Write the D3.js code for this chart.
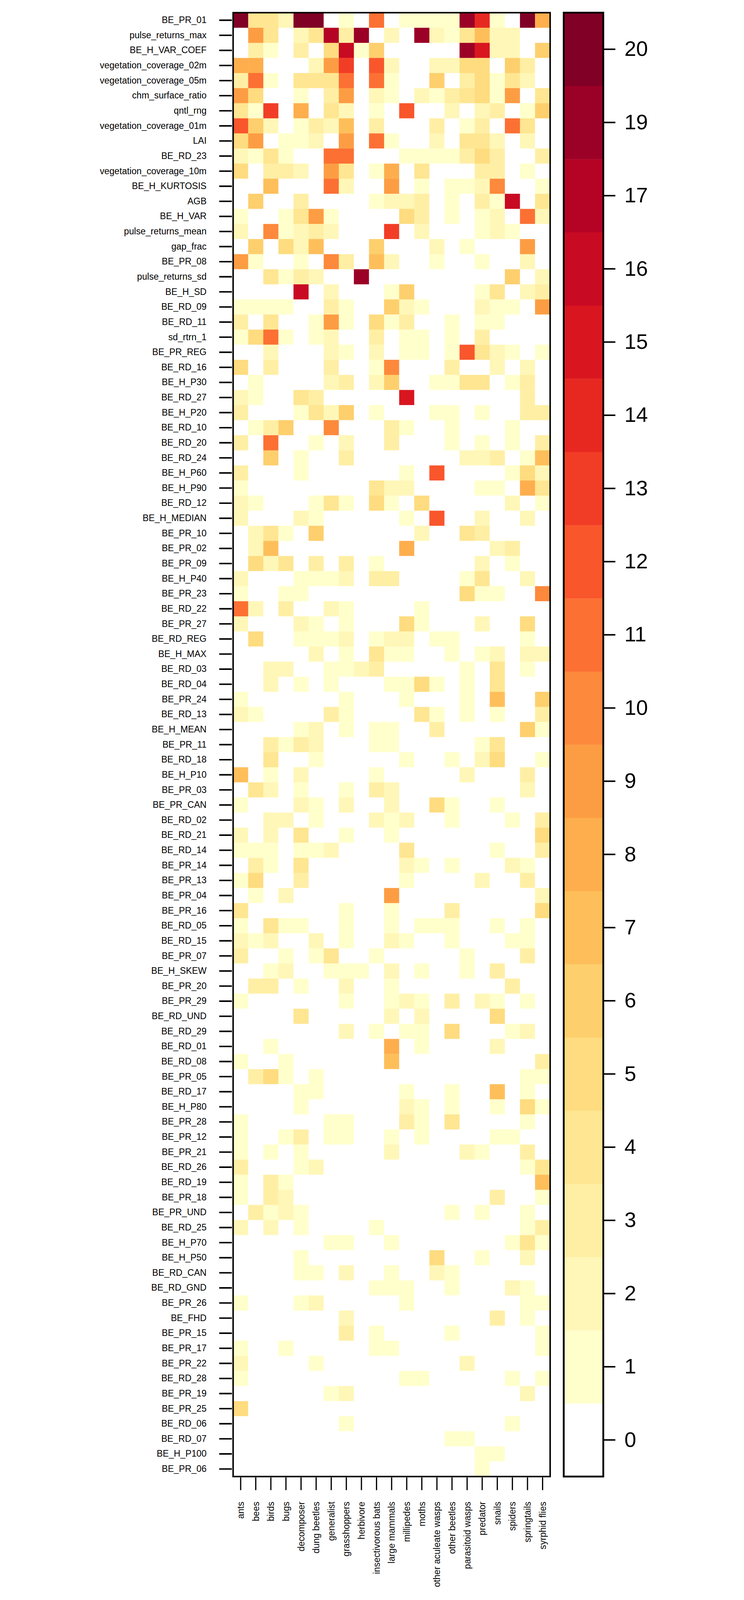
<!DOCTYPE html>
<html><head><meta charset="utf-8">
<script src="https://cdn.jsdelivr.net/npm/d3@7"></script>
<style>html,body{margin:0;padding:0;background:#fff;overflow:hidden}svg{display:block;width:100vw;height:100vh}text{font-family:"Liberation Sans",Arial,sans-serif}</style>
</head><body>
<script>
const groups = ["ants","bees","birds","bugs","decomposer","dung beetles","generalist","grasshoppers","herbivore","insectivorous bats","large mammals","millipedes","moths","other aculeate wasps","other beetles","parasitoid wasps","predator","snails","spiders","springtails","syrphid flies"];
const variables = ["BE_PR_01","pulse_returns_max","BE_H_VAR_COEF","vegetation_coverage_02m","vegetation_coverage_05m","chm_surface_ratio","qntl_rng","vegetation_coverage_01m","LAI","BE_RD_23","vegetation_coverage_10m","BE_H_KURTOSIS","AGB","BE_H_VAR","pulse_returns_mean","gap_frac","BE_PR_08","pulse_returns_sd","BE_H_SD","BE_RD_09","BE_RD_11","sd_rtrn_1","BE_PR_REG","BE_RD_16","BE_H_P30","BE_RD_27","BE_H_P20","BE_RD_10","BE_RD_20","BE_RD_24","BE_H_P60","BE_H_P90","BE_RD_12","BE_H_MEDIAN","BE_PR_10","BE_PR_02","BE_PR_09","BE_H_P40","BE_PR_23","BE_RD_22","BE_PR_27","BE_RD_REG","BE_H_MAX","BE_RD_03","BE_RD_04","BE_PR_24","BE_RD_13","BE_H_MEAN","BE_PR_11","BE_RD_18","BE_H_P10","BE_PR_03","BE_PR_CAN","BE_RD_02","BE_RD_21","BE_RD_14","BE_PR_14","BE_PR_13","BE_PR_04","BE_PR_16","BE_RD_05","BE_RD_15","BE_PR_07","BE_H_SKEW","BE_PR_20","BE_PR_29","BE_RD_UND","BE_RD_29","BE_RD_01","BE_RD_08","BE_PR_05","BE_RD_17","BE_H_P80","BE_PR_28","BE_PR_12","BE_PR_21","BE_RD_26","BE_RD_19","BE_PR_18","BE_PR_UND","BE_RD_25","BE_H_P70","BE_H_P50","BE_RD_CAN","BE_RD_GND","BE_PR_26","BE_FHD","BE_PR_15","BE_PR_17","BE_PR_22","BE_RD_28","BE_PR_19","BE_PR_25","BE_RD_06","BE_RD_07","BE_H_P100","BE_PR_06"];
const legendLabels = [0,1,2,3,4,5,6,7,8,9,10,11,12,13,14,15,16,17,19,20];
const values = [
[20,4,4,2,20,20,0,1,0,11,0,1,1,1,1,19,14,1,0,20,8],
[0,9,4,0,2,4,17,3,19,0,2,0,19,2,1,4,7,2,2,0,0],
[0,3,1,0,3,0,5,16,1,6,0,0,0,0,0,19,15,2,2,0,6],
[8,8,0,0,0,2,9,13,0,12,2,0,0,2,2,5,5,0,6,3,0],
[3,11,1,0,4,4,4,11,0,11,1,0,0,6,0,3,5,1,4,2,0],
[9,5,0,0,1,0,3,9,0,2,1,0,2,1,3,4,5,1,9,0,4],
[4,1,13,0,8,0,4,2,0,1,0,12,0,0,2,0,2,3,0,1,6],
[12,6,2,0,1,3,2,7,0,3,0,0,0,3,0,1,3,0,11,4,0],
[5,9,0,1,1,2,0,9,0,11,1,0,0,2,0,4,4,2,0,2,0],
[2,1,4,1,0,0,11,11,0,0,0,1,1,1,1,3,5,3,0,0,3],
[5,0,3,3,2,0,9,4,0,1,8,0,4,0,0,0,3,3,0,1,0],
[0,0,7,0,0,0,11,2,0,0,9,0,1,0,1,1,2,10,0,0,1],
[0,6,0,0,3,0,0,0,0,1,2,2,3,0,1,0,3,1,16,0,4],
[1,0,0,1,4,9,1,0,0,0,0,5,3,0,1,0,1,2,0,11,2],
[2,0,10,1,2,3,2,0,0,0,13,0,2,0,0,0,1,2,1,0,0],
[0,6,0,5,2,7,0,0,0,6,0,0,0,2,0,1,0,0,0,9,0],
[9,1,0,0,1,0,10,3,0,7,2,0,0,1,0,0,1,0,0,2,0],
[0,0,4,1,3,2,0,0,19,0,0,0,0,0,0,0,0,0,6,0,2],
[0,0,0,0,16,0,2,0,0,0,1,6,0,0,0,0,1,4,0,2,3],
[1,1,1,1,0,0,3,1,0,0,6,2,1,0,0,0,2,1,1,0,9],
[3,0,4,0,0,1,9,1,0,5,1,3,0,0,1,0,1,1,0,0,0],
[1,5,11,1,0,1,2,0,0,3,0,1,1,0,1,0,3,0,0,0,0],
[0,0,2,0,0,0,2,1,0,2,0,1,1,0,1,12,4,2,1,0,1],
[5,0,3,0,0,0,3,0,0,1,10,0,0,0,3,0,0,2,0,2,0],
[0,1,0,0,0,0,2,3,0,2,6,0,0,1,1,4,4,0,1,3,0],
[2,1,0,0,4,3,0,0,0,0,0,15,0,0,0,0,0,0,0,3,0],
[3,0,0,0,1,4,2,6,0,1,0,0,0,1,1,0,1,0,0,3,3],
[0,1,3,6,0,0,10,0,0,0,3,1,0,0,1,0,0,0,1,0,0],
[3,0,11,0,0,1,0,2,0,0,3,0,0,0,1,0,1,0,1,0,3],
[0,0,6,0,1,0,0,3,0,0,0,0,0,0,0,2,2,3,0,1,7],
[3,0,0,0,1,0,0,0,0,0,0,1,0,12,0,0,0,0,1,5,2],
[1,0,0,0,0,0,0,0,0,4,2,2,0,0,0,0,1,1,0,8,4],
[2,1,0,0,0,1,4,1,0,5,1,0,5,0,0,0,0,0,2,0,1],
[2,0,0,0,2,1,0,0,0,0,0,1,0,12,0,0,2,0,0,2,0],
[0,2,4,1,0,6,0,0,0,0,0,0,2,0,0,4,3,0,0,0,0],
[0,2,7,0,0,0,0,0,0,0,0,8,0,0,0,0,0,2,3,0,0],
[0,5,2,4,0,3,0,3,0,1,0,0,0,0,0,0,2,0,1,0,0],
[2,0,0,0,1,1,1,2,0,3,3,0,0,0,0,1,4,0,0,2,0],
[1,0,0,1,1,0,0,0,0,0,0,0,0,0,0,5,1,1,0,0,10],
[11,2,0,3,0,0,2,1,0,0,0,0,1,0,0,0,0,0,0,0,0],
[2,0,0,0,2,1,0,1,0,0,0,5,1,0,0,0,2,0,0,5,0],
[0,5,0,0,1,1,1,2,0,1,2,2,0,1,1,0,0,0,0,1,0],
[0,0,0,0,0,2,0,1,0,4,1,1,0,0,1,0,1,2,0,2,2],
[0,0,2,2,0,0,1,1,2,3,0,0,0,0,0,1,0,4,0,1,0],
[0,0,2,0,1,0,1,0,0,0,1,1,5,1,0,1,0,4,0,0,0],
[1,0,0,0,0,0,0,1,0,0,0,1,0,0,0,1,0,7,0,0,6],
[2,1,0,0,0,0,3,1,0,0,0,0,4,1,0,1,0,1,0,0,3],
[0,0,0,0,1,2,0,1,0,1,1,0,0,3,0,0,0,0,0,6,1],
[0,0,3,1,3,2,0,0,0,1,1,0,0,0,0,0,1,4,0,0,0],
[0,0,4,0,0,1,0,0,0,0,0,1,0,0,1,0,2,5,0,0,1],
[7,0,1,0,2,0,0,0,0,1,0,0,0,0,0,2,0,0,0,3,0],
[0,4,2,0,1,0,0,1,0,3,2,0,0,0,0,0,0,0,0,2,0],
[1,0,0,0,2,1,0,2,0,0,2,0,0,5,1,0,0,1,0,0,0],
[0,0,2,2,0,1,0,0,0,2,1,2,0,0,1,0,0,0,1,0,3],
[2,0,2,0,4,0,0,1,0,0,1,0,0,0,0,0,0,0,0,0,5],
[1,1,1,0,1,1,2,0,0,0,0,4,0,0,0,0,0,1,0,0,3],
[0,3,1,0,4,0,0,0,0,0,0,2,1,0,1,0,0,0,2,1,0],
[1,5,0,0,3,0,0,0,0,0,0,1,0,0,0,0,2,0,0,3,0],
[0,1,0,2,0,0,0,0,0,0,9,0,0,0,0,0,0,0,0,0,2],
[4,0,0,0,0,0,0,1,0,0,1,0,0,0,3,0,0,0,0,0,5],
[1,0,4,1,1,0,0,1,0,0,1,0,1,1,1,0,0,1,0,1,0],
[2,1,2,0,0,2,0,1,0,0,2,1,0,0,1,0,0,0,1,1,0],
[3,0,0,1,0,1,4,0,0,1,0,0,0,0,0,1,0,0,0,3,0],
[0,0,1,2,0,0,1,1,1,0,2,0,1,0,0,1,0,3,0,0,0],
[0,3,3,0,1,0,0,2,0,0,1,0,0,0,0,0,0,0,3,0,0],
[1,0,0,0,0,0,0,1,0,0,1,2,1,0,3,0,2,1,0,1,0],
[0,0,0,0,4,0,0,0,0,0,2,0,2,0,0,0,0,5,0,0,0],
[0,0,0,0,0,0,0,2,0,1,0,1,1,0,5,0,0,0,1,2,0],
[0,0,1,0,0,0,0,0,0,0,8,0,1,0,0,0,0,2,0,0,0],
[1,0,0,1,0,0,0,0,0,0,7,0,0,0,0,0,0,0,0,0,3],
[0,3,5,1,0,1,0,0,0,0,0,0,0,0,0,0,0,0,0,1,1],
[0,0,0,0,1,1,0,0,0,0,0,1,0,0,1,0,0,7,0,1,0],
[0,0,0,0,1,0,0,0,0,0,0,2,1,0,1,0,0,1,0,5,1],
[1,0,0,0,0,0,1,1,0,0,0,3,1,0,4,0,0,0,0,1,0],
[1,0,0,1,3,0,1,1,0,0,1,0,1,0,0,0,0,1,1,0,0],
[1,0,1,0,1,0,0,0,0,0,2,0,0,0,0,2,1,0,0,3,0],
[3,0,0,0,1,2,0,0,0,0,0,0,0,0,0,0,0,0,0,1,4],
[1,0,3,1,0,0,0,0,0,0,0,0,0,0,0,0,0,0,0,0,7],
[1,0,3,2,0,0,0,0,0,0,0,0,0,0,0,0,0,3,0,0,1],
[0,3,1,2,1,0,0,0,0,0,0,0,0,0,1,0,1,0,0,1,0],
[2,0,2,0,1,0,0,0,0,1,0,0,0,0,0,0,0,0,0,1,3],
[0,0,0,0,0,0,1,1,0,0,1,0,0,0,0,0,0,0,1,4,1],
[0,0,0,0,1,0,0,0,0,0,0,0,0,5,0,0,1,0,0,2,0],
[0,0,0,0,1,1,0,2,0,0,1,0,0,2,1,0,0,0,0,0,0],
[0,0,0,0,0,0,0,0,0,1,1,1,0,0,1,0,0,0,2,1,0],
[1,0,0,0,1,2,0,0,0,0,0,1,0,0,0,0,0,0,0,1,1],
[0,0,0,0,0,0,0,2,0,0,0,0,0,0,0,0,0,3,0,1,0],
[0,0,0,0,0,0,0,3,0,1,0,0,0,0,1,0,0,0,0,0,1],
[1,0,0,1,0,0,0,0,0,1,1,0,0,0,0,0,0,0,0,0,1],
[2,0,0,0,0,1,0,0,0,0,0,0,0,0,0,2,0,0,0,0,0],
[1,0,0,0,0,0,0,0,0,0,0,1,1,0,0,0,0,0,1,0,1],
[0,0,0,0,0,0,1,2,0,0,0,0,0,0,0,0,0,0,0,2,0],
[5,0,0,0,0,0,0,0,0,0,0,0,0,0,0,0,0,0,0,0,0],
[0,0,0,0,0,0,0,1,0,0,0,0,0,0,0,0,0,0,1,0,0],
[0,0,0,0,0,0,0,0,0,0,0,0,0,0,1,1,0,0,0,0,0],
[0,0,0,0,0,0,0,0,0,0,0,0,0,0,0,0,1,1,0,0,0],
[0,0,0,0,0,0,0,0,0,0,0,0,0,0,0,0,1,0,0,0,0]
];

const W = 1904, H = 5301;
const L = 492, R = 1542, T = 42, B = 4892;
const palette = ["#ffffff"].concat(d3.quantize(d3.interpolateYlOrRd, 19));
const color = d3.scaleOrdinal().domain(legendLabels).range(palette);

const svg = d3.select("body").append("svg")
  .attr("viewBox", `0 0 ${W} ${H}`).attr("preserveAspectRatio", "xMidYMin meet");
svg.append("rect").attr("width", W).attr("height", H).attr("fill", "#fff");

const x = d3.scaleBand().domain(groups).range([L, R]);
const y = d3.scaleBand().domain(variables).range([T, B]);

const cells = [];
values.forEach((row, i) => row.forEach((v, j) => cells.push({r: variables[i], c: groups[j], v})));
svg.append("g").selectAll("rect").data(cells).join("rect")
  .attr("x", d => x(d.c)).attr("y", d => y(d.r))
  .attr("width", x.bandwidth() + 0.5).attr("height", y.bandwidth() + 0.5)
  .attr("fill", d => color(d.v));
svg.append("rect").attr("x", L).attr("y", T).attr("width", R - L).attr("height", B - T)
  .attr("fill", "none").attr("stroke", "#000").attr("stroke-width", 5);

// Y axis
const yAxis = d3.axisLeft(y).tickSize(42).tickPadding(42);
const gy = svg.append("g").attr("transform", `translate(${L - 4},0)`).call(yAxis);
gy.select(".domain").remove();
gy.selectAll("line").attr("stroke", "#000").attr("stroke-width", 5);
gy.selectAll("text").attr("font-size", 30).attr("fill", "#000");

// X axis
const xAxis = d3.axisBottom(x).tickSize(42).tickPadding(0);
const gx = svg.append("g").attr("transform", `translate(0,${B + 3})`).call(xAxis);
gx.select(".domain").remove();
gx.selectAll("line").attr("stroke", "#000").attr("stroke-width", 4);
gx.selectAll("text").attr("font-size", 30).attr("fill", "#000")
  .attr("transform", "translate(0,80) rotate(-90)").attr("text-anchor", "end")
  .attr("x", 0).attr("y", 0).attr("dy", "0.35em");

// Colour bar
const CL = 1587, CR = 1718;
const cy = d3.scaleBand().domain(legendLabels).range([B, T]);
svg.append("g").selectAll("rect").data(legendLabels).join("rect")
  .attr("x", CL).attr("y", d => cy(d)).attr("width", CR - CL).attr("height", cy.bandwidth() + 0.5)
  .attr("fill", d => color(d));
svg.append("rect").attr("x", CL).attr("y", T).attr("width", CR - CL).attr("height", B - T)
  .attr("fill", "none").attr("stroke", "#000").attr("stroke-width", 6);
const cAxis = d3.axisRight(cy).tickSize(38).tickPadding(30);
const gc = svg.append("g").attr("transform", `translate(${CR + 2},0)`).call(cAxis);
gc.select(".domain").remove();
gc.selectAll("line").attr("stroke", "#000").attr("stroke-width", 5);
gc.selectAll("text").attr("font-size", 70).attr("fill", "#000");
</script>
</body></html>
